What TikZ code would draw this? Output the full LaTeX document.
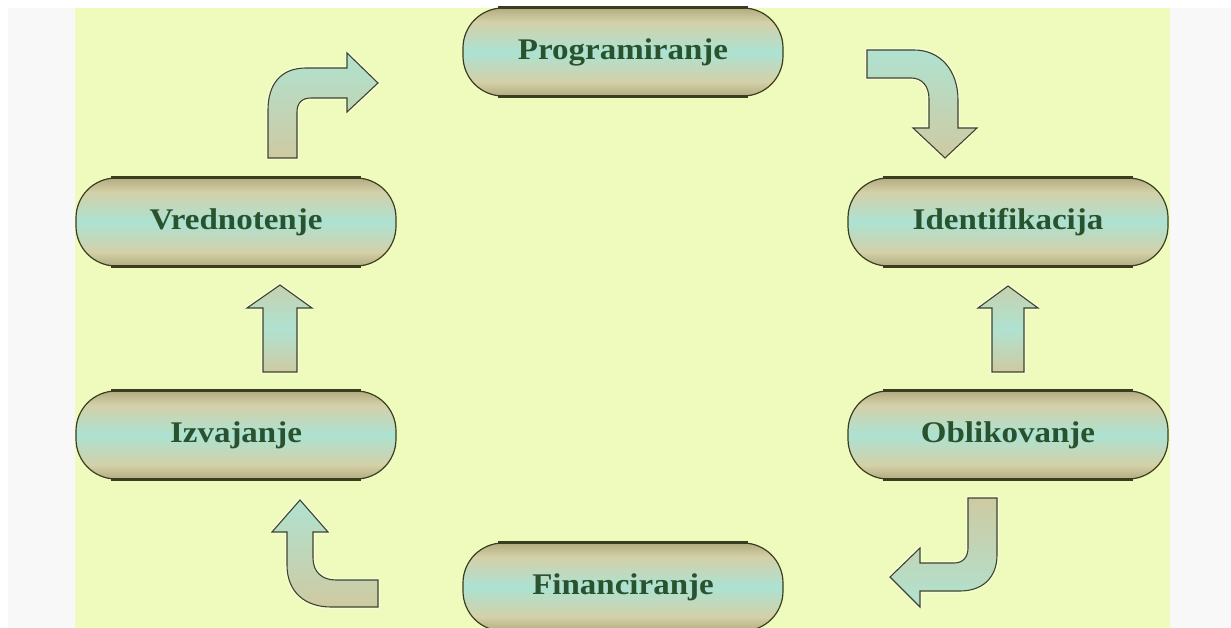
\documentclass[tikz,border=0pt]{standalone}
\usepackage{fontspec}
\newfontfamily\labelfont{Liberation Serif}[FakeStretch=1.1]
\definecolor{pagewhite}{RGB}{248,248,248}
\definecolor{paper}{RGB}{239,251,189}
\definecolor{capD}{RGB}{178,173,128}
\definecolor{capK}{RGB}{212,208,168}
\definecolor{capC}{RGB}{172,226,210}
\definecolor{rim}{RGB}{58,62,30}
\definecolor{ink}{RGB}{42,82,46}
\definecolor{arrC}{RGB}{176,226,208}
\definecolor{arrK}{RGB}{206,202,162}
\definecolor{arrline}{RGB}{62,70,38}
% khaki bands above and below a light teal middle
\pgfdeclareverticalshading{capsule}{100bp}{%
  color(0bp)=(capD); color(25bp)=(capD); color(33bp)=(capK);
  color(50bp)=(capC); color(67bp)=(capK); color(75bp)=(capD);
  color(100bp)=(capD)}
\tikzset{
  stage/.style={rectangle, rounded corners=40pt, minimum width=320pt,
    minimum height=88pt, shading=capsule, draw=rim, line width=1.2pt,
    font=\labelfont\bfseries\fontsize{30}{32}\selectfont, text=ink},
  rimedge/.style={draw=rim, line width=2.6pt},
  blockarrow/.style={draw=arrline, line width=1.1pt, line join=miter},
  halo/.style={draw=white, opacity=0.45, line width=4pt, line join=round}
}
\begin{document}
\begin{tikzpicture}[x=1pt,y=-1pt]
\useasboundingbox (0,0) rectangle (1231,628);
% page background
\fill[white] (0,0) rectangle (1231,628);
\fill[pagewhite] (8,8) rectangle (1231,628);
\fill[paper] (75,8) rectangle (1170,628);

% stages of the cycle
\node[stage] (prog)  at (623,52)  {Programiranje};
\node[stage] (ident) at (1008,222) {Identifikacija};
\node[stage] (oblik) at (1008,435) {Oblikovanje};
\node[stage] (finan) at (623,587) {Financiranje};
\node[stage] (izva)  at (236,435) {Izvajanje};
\node[stage] (vred)  at (236,222) {Vrednotenje};

% heavier top and bottom rims
\foreach \n in {prog,ident,oblik,finan,izva,vred}{
  \draw[rimedge] ([xshift=36pt]\n.north west) -- ([xshift=-36pt]\n.north east);
  \draw[rimedge] ([xshift=36pt]\n.south west) -- ([xshift=-36pt]\n.south east);
}

% Vrednotenje -> Programiranje (bent arrow)
\def\arrA{(268,158) -- (268,110) .. controls (268,84) and (281,68) .. (306,68)
  -- (347,68) -- (347,53) -- (378,83) -- (347,112) -- (347,98) -- (311,98)
  .. controls (302,98) and (297,103) .. (297,112) -- (297,158) -- cycle}
\path[halo] \arrA;
\shade[blockarrow, shading angle=30, top color=arrC, bottom color=arrK] \arrA;

% Programiranje -> Identifikacija (bent arrow)
\def\arrB{(867,50) -- (914,50) .. controls (940,50) and (958,70) .. (958,100)
  -- (958,128) -- (977,128) -- (945,158) -- (913,128) -- (929,128) -- (929,99)
  .. controls (929,86) and (922,78) .. (911,78) -- (867,78) -- cycle}
\path[halo] \arrB;
\shade[blockarrow, shading angle=-60, top color=arrC, bottom color=arrK] \arrB;

% Oblikovanje -> Identifikacija (straight arrow)
\def\arrC{(992,372) -- (992,308) -- (978,308) -- (1008,286) -- (1038,308)
  -- (1024,308) -- (1024,372) -- cycle}
\path[halo] \arrC;
\shade[blockarrow, top color=arrK!70!arrC, bottom color=arrK, middle color=arrC] \arrC;

% Oblikovanje -> Financiranje (bent arrow)
\def\arrD{(968,498) -- (997,498) -- (997,555) .. controls (997,578) and (982,591) .. (960,591)
  -- (920,591) -- (920,607) -- (890,577) -- (920,548) -- (920,563) -- (954,563)
  .. controls (963,563) and (968,557) .. (968,548) -- cycle}
\path[halo] \arrD;
\shade[blockarrow, shading angle=0, top color=arrK, bottom color=arrC] \arrD;

% Financiranje -> Izvajanje (bent arrow)
\def\arrE{(378,580) -- (336,580) .. controls (322,580) and (313,572) .. (313,558)
  -- (313,532) -- (328,532) -- (300,500) -- (272,532) -- (287,532) -- (287,565)
  .. controls (287,592) and (305,607) .. (331,607) -- (378,607) -- cycle}
\path[halo] \arrE;
\shade[blockarrow, shading angle=-30, top color=arrC, bottom color=arrK] \arrE;

% Izvajanje -> Vrednotenje (straight arrow)
\def\arrF{(263,372) -- (263,308) -- (247,308) -- (280,285) -- (312,308)
  -- (297,308) -- (297,372) -- cycle}
\path[halo] \arrF;
\shade[blockarrow, top color=arrK!70!arrC, bottom color=arrK, middle color=arrC] \arrF;
\end{tikzpicture}
\end{document}
